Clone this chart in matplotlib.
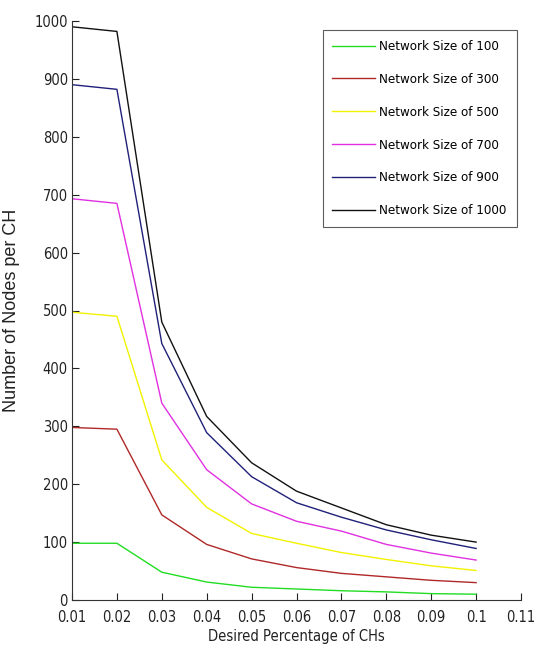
import numpy as np
import matplotlib
matplotlib.use('Agg')
import matplotlib.pyplot as plt
from matplotlib import font_manager as fm

# 数据
p = [0.01, 0.02, 0.03, 0.04, 0.05, 0.06, 0.07, 0.08, 0.09, 0.10]
n100 = [98, 98, 48, 31, 22, 19, 16, 14, 11, 10]
n300 = [298, 295, 147, 96, 71, 56, 46, 40, 34, 30]
n500 = [497, 490, 242, 160, 115, 98, 82, 70, 59, 51]
n700 = [693, 685, 340, 225, 166, 136, 119, 96, 81, 69]
n900 = [890, 882, 443, 289, 213, 168, 143, 121, 104, 89]
n1000 = [990, 982, 480, 317, 237, 188, 159, 130, 112, 100]
labels = ['Network Size of 100', 'Network Size of 300', 'Network Size of 500',
          'Network Size of 700', 'Network Size of 900', 'Network Size of 1000']
colors = ['#22dd22', '#b02828', '#f2f200', '#e030e0', '#20207a', '#111111']

# 找一个窄体字体 (没有就用 Liberation Sans)
narrow_fam, narrow_stretch = 'Liberation Sans', 'normal'
for f in fm.fontManager.ttflist:
    st = str(f.stretch).lower()
    if ('narrow' in f.name.lower() or 'condensed' in st or 'narrow' in st
            or 'condensed' in f.name.lower()) and 'mono' not in f.name.lower() \
            and 'serif' not in f.name.lower():
        narrow_fam, narrow_stretch = f.name, f.stretch
        break
nfont = dict(family=[narrow_fam, 'DejaVu Sans'], stretch=narrow_stretch)

fig = plt.figure(figsize=(5.36, 6.58), dpi=100)
ax = fig.add_axes([72/536, 58/658, (521-72)/536, (600-21)/658])

for y, lab, c in zip([n100, n300, n500, n700, n900, n1000], labels, colors):
    ax.plot(p, y, '-', color=c, lw=1.0, label=lab)

ax.set_xlim(0.01, 0.11)
ax.set_ylim(0, 1000)
ax.set_xticks(np.arange(0.01, 0.111, 0.01))
ax.set_xticklabels(['0.01', '0.02', '0.03', '0.04', '0.05', '0.06', '0.07',
                    '0.08', '0.09', '0.1', '0.11'])
ax.set_yticks(range(0, 1001, 100))
for s in ['top', 'right']:
    ax.spines[s].set_visible(False)
for s in ['left', 'bottom']:
    ax.spines[s].set_color('#333333')
ax.tick_params(direction='in', length=5, width=0.8, colors='#222222', pad=3)
ax.tick_params(axis='x', pad=7)
for t in ax.get_xticklabels() + ax.get_yticklabels():
    t.set_family(nfont['family'])
    t.set_stretch(nfont['stretch'])
    t.set_fontsize(10.5)
    t.set_color('#222222')

ax.set_xlabel('Desired Percentage of CHs', fontsize=10.5, color='#222222',
              labelpad=3, **nfont)
ax.set_ylabel('Number of Nodes per CH', fontsize=13, color='#222222',
              family='Liberation Sans', labelpad=10)

leg = ax.legend(loc='upper right', bbox_to_anchor=(0.99, 0.984),
                frameon=True, fancybox=False,
                prop={'family': nfont['family'], 'stretch': nfont['stretch'],
                      'size': 9.5},
                handlelength=3.2, handletextpad=0.35, labelspacing=1.5,
                borderpad=0.75, borderaxespad=0)
leg.get_frame().set_edgecolor('#333333')
leg.get_frame().set_linewidth(0.8)

plt.savefig('out.png', dpi=100)
